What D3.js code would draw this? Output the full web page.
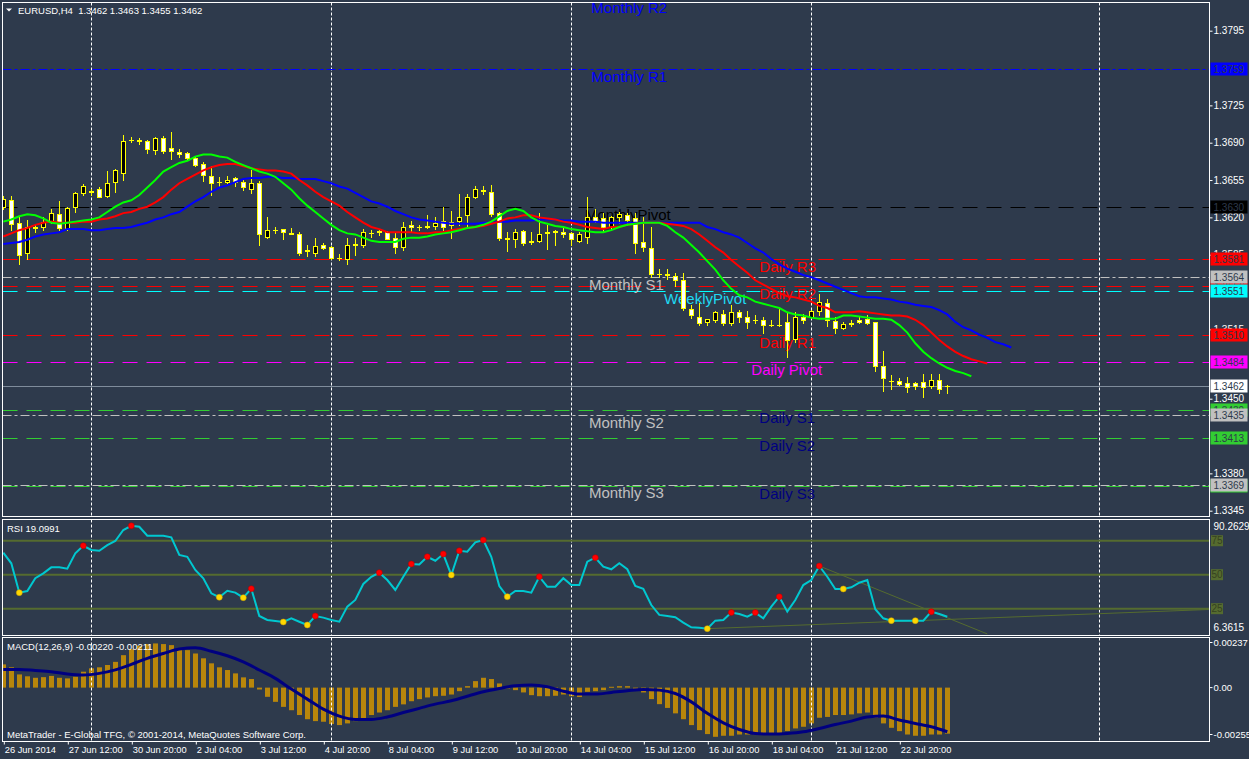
<!DOCTYPE html>
<html>
<head>
<meta charset="utf-8">
<script src="https://cdn.jsdelivr.net/npm/d3@7"></script>
<style>
html, body { margin: 0; padding: 0; background: #2e3a4c; }
svg { display: block; }
text { font-family: "Liberation Sans", Arial, sans-serif; }
</style>
</head>
<body>
<div id="chart"></div>
<script>
// EURUSD H4 candles, 26 Jun - 23 Jul 2014: [open, high, low, close]
const ohlc = [
  [1.3630,1.3640,1.3628,1.3637],[1.3636,1.3640,1.3608,1.3614],[1.3615,1.3620,1.3576,1.3585],[1.3587,1.3618,1.3581,1.3611],
  [1.3611,1.3613,1.3606,1.3610],[1.3611,1.3620,1.3608,1.3616],[1.3617,1.3628,1.3615,1.3624],[1.3623,1.3635,1.3608,1.3610],
  [1.3609,1.3630,1.3608,1.3629],[1.3630,1.3644,1.3625,1.3643],[1.3643,1.3651,1.3641,1.3649],[1.3645,1.3647,1.3641,1.3644],
  [1.3647,1.3648,1.3639,1.3639],[1.3640,1.3663,1.3639,1.3652],[1.3653,1.3665,1.3644,1.3664],[1.3662,1.3697,1.3655,1.3692],
  [1.3693,1.3695,1.3691,1.3693],[1.3693,1.3694,1.3689,1.3692],[1.3692,1.3693,1.3680,1.3684],[1.3683,1.3695,1.3679,1.3694],
  [1.3694,1.3696,1.3680,1.3682],[1.3685,1.3700,1.3675,1.3682],[1.3681,1.3684,1.3677,1.3679],[1.3680,1.3681,1.3675,1.3676],
  [1.3676,1.3678,1.3668,1.3669],[1.3670,1.3672,1.3654,1.3660],[1.3659,1.3668,1.3641,1.3652],[1.3653,1.3658,1.3648,1.3653],
  [1.3653,1.3659,1.3652,1.3655],[1.3657,1.3658,1.3649,1.3653],[1.3653,1.3655,1.3646,1.3648],[1.3647,1.3664,1.3643,1.3652],
  [1.3652,1.3654,1.3594,1.3604],[1.3602,1.3620,1.3601,1.3608],[1.3608,1.3611,1.3605,1.3608],[1.3609,1.3609,1.3600,1.3606],
  [1.3605,1.3610,1.3604,1.3604],[1.3604,1.3606,1.3585,1.3587],[1.3588,1.3594,1.3584,1.3589],[1.3587,1.3601,1.3584,1.3593],
  [1.3594,1.3596,1.3590,1.3591],[1.3592,1.3593,1.3581,1.3582],[1.3582,1.3586,1.3580,1.3582],[1.3581,1.3601,1.3576,1.3594],
  [1.3594,1.3601,1.3585,1.3595],[1.3594,1.3609,1.3592,1.3606],[1.3605,1.3608,1.3602,1.3605],[1.3606,1.3609,1.3603,1.3607],
  [1.3606,1.3607,1.3600,1.3600],[1.3601,1.3605,1.3587,1.3592],[1.3592,1.3616,1.3589,1.3611],[1.3613,1.3617,1.3606,1.3611],
  [1.3611,1.3613,1.3608,1.3611],[1.3611,1.3622,1.3610,1.3612],[1.3612,1.3620,1.3609,1.3615],[1.3617,1.3630,1.3608,1.3611],
  [1.3613,1.3626,1.3601,1.3616],[1.3617,1.3642,1.3613,1.3620],[1.3622,1.3642,1.3610,1.3639],[1.3639,1.3649,1.3638,1.3647],
  [1.3646,1.3649,1.3642,1.3645],[1.3644,1.3650,1.3621,1.3623],[1.3624,1.3625,1.3599,1.3601],[1.3601,1.3606,1.3588,1.3600],
  [1.3600,1.3609,1.3592,1.3606],[1.3607,1.3608,1.3594,1.3596],[1.3597,1.3606,1.3595,1.3598],[1.3598,1.3624,1.3597,1.3604],
  [1.3605,1.3613,1.3590,1.3606],[1.3606,1.3608,1.3594,1.3607],[1.3606,1.3611,1.3602,1.3604],[1.3605,1.3606,1.3594,1.3600],
  [1.3598,1.3606,1.3597,1.3604],[1.3602,1.3639,1.3596,1.3620],[1.3620,1.3628,1.3616,1.3617],[1.3619,1.3624,1.3606,1.3611],
  [1.3611,1.3621,1.3609,1.3620],[1.3620,1.3625,1.3615,1.3623],[1.3622,1.3624,1.3613,1.3618],[1.3619,1.3624,1.3587,1.3596],
  [1.3597,1.3620,1.3588,1.3592],[1.3591,1.3611,1.3564,1.3567],[1.3567,1.3572,1.3564,1.3567],[1.3567,1.3572,1.3562,1.3566],
  [1.3565,1.3568,1.3556,1.3561],[1.3561,1.3568,1.3533,1.3535],[1.3534,1.3538,1.3526,1.3528],[1.3527,1.3540,1.3519,1.3521],
  [1.3522,1.3525,1.3519,1.3525],[1.3524,1.3532,1.3522,1.3531],[1.3529,1.3533,1.3519,1.3521],[1.3521,1.3538,1.3519,1.3531],
  [1.3531,1.3533,1.3522,1.3527],[1.3527,1.3532,1.3516,1.3522],[1.3524,1.3528,1.3521,1.3524],[1.3524,1.3527,1.3512,1.3519],
  [1.3519,1.3524,1.3518,1.3519],[1.3519,1.3534,1.3518,1.3519],[1.3522,1.3531,1.3489,1.3505],[1.3506,1.3531,1.3503,1.3527],
  [1.3527,1.3529,1.3521,1.3524],[1.3527,1.3533,1.3526,1.3532],[1.3532,1.3548,1.3528,1.3541],[1.3540,1.3543,1.3518,1.3524],
  [1.3523,1.3527,1.3512,1.3516],[1.3516,1.3522,1.3515,1.3520],[1.3520,1.3524,1.3518,1.3521],[1.3524,1.3527,1.3521,1.3522],
  [1.3525,1.3528,1.3520,1.3521],[1.3522,1.3522,1.3476,1.3481],[1.3481,1.3495,1.3457,1.3469],[1.3467,1.3472,1.3459,1.3467],
  [1.3467,1.3469,1.3463,1.3464],[1.3465,1.3470,1.3456,1.3461],[1.3465,1.3466,1.3459,1.3462],[1.3466,1.3473,1.3452,1.3461],
  [1.3462,1.3473,1.3460,1.3468],[1.3468,1.3473,1.3455,1.3459],[1.3462,1.3463,1.3455,1.3462]
];

// moving averages (shifted forward, so they run past the last candle)
const maGreen = [
  1.3616,1.3618,1.3621,1.3623,1.3622,1.3619,1.3615,1.3614,1.3615,1.3616,
  1.3617,1.3618,1.3620,1.3625,1.3630,1.3634,1.3636,1.3641,1.3648,1.3655,
  1.3663,1.3667,1.3671,1.3673,1.3677,1.3679,1.3679,1.3677,1.3676,1.3672,
  1.3669,1.3666,1.3663,1.3661,1.3658,1.3652,1.3646,1.3638,1.3631,1.3625,
  1.3619,1.3613,1.3608,1.3605,1.3604,1.3601,1.3598,1.3597,1.3597,1.3597,
  1.3600,1.3601,1.3601,1.3602,1.3604,1.3605,1.3606,1.3608,1.3610,1.3611,
  1.3613,1.3616,1.3621,1.3626,1.3628,1.3626,1.3620,1.3616,1.3614,1.3612,
  1.3611,1.3609,1.3608,1.3607,1.3606,1.3606,1.3608,1.3611,1.3613,1.3614,
  1.3615,1.3615,1.3615,1.3612,1.3606,1.3601,1.3594,1.3587,1.3579,1.3571,
  1.3561,1.3553,1.3547,1.3545,1.3541,1.3539,1.3537,1.3535,1.3531,1.3529,
  1.3528,1.3526,1.3525,1.3525,1.3525,1.3528,1.3528,1.3527,1.3526,1.3525,
  1.3525,1.3524,1.3519,1.3512,1.3502,1.3494,1.3488,1.3483,1.3479,1.3476,
  1.3474,1.3471
];
const maRed = [
  1.3602,1.3605,1.3608,1.3610,1.3613,1.3615,1.3616,1.3615,1.3615,1.3615,
  1.3616,1.3616,1.3618,1.3619,1.3621,1.3624,1.3625,1.3628,1.3630,1.3634,
  1.3639,1.3646,1.3652,1.3656,1.3660,1.3664,1.3667,1.3669,1.3670,1.3670,
  1.3668,1.3666,1.3665,1.3664,1.3664,1.3663,1.3661,1.3655,1.3650,1.3644,
  1.3639,1.3635,1.3631,1.3625,1.3620,1.3615,1.3611,1.3609,1.3606,1.3606,
  1.3606,1.3606,1.3605,1.3605,1.3606,1.3606,1.3608,1.3609,1.3610,1.3611,
  1.3612,1.3614,1.3616,1.3619,1.3620,1.3622,1.3622,1.3620,1.3619,1.3618,
  1.3616,1.3615,1.3613,1.3611,1.3610,1.3609,1.3611,1.3611,1.3613,1.3614,
  1.3615,1.3615,1.3615,1.3614,1.3613,1.3612,1.3609,1.3604,1.3598,1.3592,
  1.3587,1.3580,1.3574,1.3568,1.3561,1.3557,1.3553,1.3549,1.3546,1.3545,
  1.3543,1.3541,1.3537,1.3535,1.3531,1.3531,1.3531,1.3532,1.3531,1.3530,
  1.3529,1.3528,1.3528,1.3527,1.3524,1.3519,1.3512,1.3505,1.3499,1.3494,
  1.3490,1.3487,1.3485,1.3483
];
const maBlue = [
  1.3595,1.3596,1.3597,1.3599,1.3602,1.3604,1.3605,1.3606,1.3609,1.3609,
  1.3609,1.3608,1.3608,1.3609,1.3610,1.3610,1.3611,1.3613,1.3615,1.3618,
  1.3620,1.3623,1.3625,1.3630,1.3635,1.3639,1.3644,1.3648,1.3650,1.3653,
  1.3656,1.3657,1.3657,1.3658,1.3658,1.3657,1.3657,1.3656,1.3656,1.3656,
  1.3654,1.3652,1.3649,1.3647,1.3643,1.3639,1.3635,1.3633,1.3630,1.3626,
  1.3623,1.3620,1.3618,1.3617,1.3616,1.3615,1.3614,1.3614,1.3614,1.3614,
  1.3615,1.3615,1.3616,1.3616,1.3617,1.3617,1.3617,1.3618,1.3618,1.3618,
  1.3617,1.3617,1.3616,1.3616,1.3616,1.3615,1.3615,1.3615,1.3615,1.3615,
  1.3615,1.3615,1.3615,1.3615,1.3615,1.3615,1.3615,1.3615,1.3611,1.3609,
  1.3606,1.3604,1.3601,1.3596,1.3591,1.3587,1.3581,1.3576,1.3572,1.3569,
  1.3566,1.3564,1.3561,1.3558,1.3555,1.3552,1.3549,1.3546,1.3545,1.3545,
  1.3544,1.3543,1.3541,1.3540,1.3538,1.3537,1.3536,1.3533,1.3529,1.3522,
  1.3517,1.3514,1.3510,1.3507,1.3503,1.3501,1.3498
];

// pivot levels
const levelNames  = ["Monthly R2","Monthly R1","MonthlyPivot","Monthly S1","Monthly S2","Monthly S3",
                     "WeeklyPivot","Daily R3","Daily R2","Daily R1","Daily Pivot","Daily S1","Daily S2","Daily S3"];
const levelPrices = [1.3824,1.3759,1.3630,1.3564,1.3435,1.3369,1.3551,1.3581,1.3556,1.3510,1.3484,1.3439,1.3413,1.3368];
const levelLabelBars = [73.5,73.5,72.7,73.2,73.2,73.2,82.6,94.5,94.5,94.5,93.5,94.5,94.5,94.5];
const lastPrice = 1.3462;

// scale values that are not hidden behind a price label
const priceTicks = [1.3795,1.3725,1.3690,1.3655,1.3620,1.3585,1.3515,1.3450,1.3380,1.3345];

// RSI
const rsi = [
  66.2,58.4,36.8,38.0,47.4,51.0,55.4,55.4,54.4,65.7,
  71.3,68.2,67.6,71.8,74.8,82.9,86.0,85.3,78.7,78.7,
  78.7,77.5,64.5,63.2,53.5,47.4,36.3,33.4,38.2,36.8,
  33.1,39.7,19.6,16.7,16.0,15.2,17.9,15.4,13.0,19.6,
  18.4,16.7,15.4,26.5,31.4,43.2,48.5,51.5,46.1,38.8,
  48.5,57.9,57.6,63.2,60.3,65.2,49.8,67.6,66.9,73.8,
  75.5,63.2,41.7,33.8,38.0,38.0,36.8,48.5,41.2,41.2,
  47.4,42.4,42.4,59.6,62.5,55.9,54.0,58.4,54.0,41.7,
  39.7,27.7,20.4,19.6,18.7,14.7,11.3,11.0,10.3,16.2,
  16.7,22.1,21.1,19.1,22.1,17.9,26.5,33.8,22.8,31.4,
  42.4,46.1,56.4,48.5,39.5,39.5,40.7,44.1,46.1,24.6,
  17.9,16.2,16.2,16.2,16.2,16.2,22.8,21.1,19.0991
];
const rsiPeakBars = [10,16,31,39,47,51,53,55,57,60,67,74,91,94,97,102,116];
const rsiTroughBars = [2,27,30,35,38,56,63,88,105,111,114];
const rsiLevels = [75,50,25];
const rsiRange = [6.3615, 90.2629];
const rsiTrendUp = [[88, 10.3], [150.7, 24.4]];
const rsiTrendDown = [[102, 56.4], [123, 6.4]];

// MACD(12,26,9)
const macdHist = [
  0.00111,0.00097,0.00063,0.00054,0.00047,0.00050,0.00056,0.00047,0.00044,0.00052,
  0.00076,0.00092,0.00097,0.00108,0.00123,0.00155,0.00184,0.00200,0.00208,0.00211,
  0.00208,0.00203,0.00187,0.00179,0.00163,0.00140,0.00116,0.00097,0.00084,0.00068,
  0.00049,0.00041,-0.00009,-0.00044,-0.00068,-0.00092,-0.00108,-0.00131,-0.00151,-0.00160,
  -0.00163,-0.00174,-0.00179,-0.00171,-0.00160,-0.00147,-0.00131,-0.00119,-0.00108,-0.00092,
  -0.00080,-0.00065,-0.00055,-0.00047,-0.00041,-0.00039,-0.00033,-0.00017,0.00007,0.00031,
  0.00047,0.00041,0.00020,0.00001,-0.00012,-0.00023,-0.00036,-0.00041,-0.00041,-0.00039,
  -0.00033,-0.00041,-0.00045,-0.00020,-0.00017,-0.00012,0.00004,0.00007,0.00007,-0.00004,
  -0.00023,-0.00055,-0.00079,-0.00097,-0.00123,-0.00151,-0.00179,-0.00203,-0.00222,-0.00235,
  -0.00230,-0.00230,-0.00224,-0.00224,-0.00224,-0.00224,-0.00222,-0.00219,-0.00207,-0.00195,
  -0.00187,-0.00171,-0.00144,-0.00140,-0.00131,-0.00131,-0.00128,-0.00123,-0.00119,-0.00144,
  -0.00171,-0.00192,-0.00208,-0.00224,-0.00230,-0.00230,-0.00224,-0.00224,-0.00220
];
// signal line read every second bar
const macdSignal = [
  0.00087,0.00087,0.00082,0.00076,0.00065,0.00060,0.00068,0.00085,0.00111,0.00140,
  0.00163,0.00184,0.00190,0.00174,0.00152,0.00123,0.00084,0.00044,-0.00007,-0.00055,
  -0.00103,-0.00136,-0.00152,-0.00152,-0.00140,-0.00119,-0.00099,-0.00079,-0.00063,-0.00041,
  -0.00020,-0.00004,0.00009,0.00012,0.00004,-0.00017,-0.00031,-0.00031,-0.00023,-0.00015,
  -0.00009,-0.00012,-0.00028,-0.00068,-0.00123,-0.00168,-0.00200,-0.00219,-0.00222,-0.00219,
  -0.00211,-0.00195,-0.00176,-0.00160,-0.00140,-0.00136,-0.00155,-0.00171,-0.00187,-0.00211
];
const macdRange = [-0.00255, 0.00237];

// time axis
const xTickBars = [0,8,16,24,32,40,48,56,64,72,80,88,96,104,112];
const xTickLabels = ["26 Jun 2014","27 Jun 12:00","30 Jun 20:00","2 Jul 04:00","3 Jul 12:00","4 Jul 20:00",
  "8 Jul 04:00","9 Jul 12:00","10 Jul 20:00","14 Jul 04:00","15 Jul 12:00","16 Jul 20:00",
  "18 Jul 04:00","21 Jul 12:00","22 Jul 20:00"];
const separatorBars = [11, 41, 71, 101, 137];

// ---------------------------------------------------------------
const width = 1249, height = 759;
const bg = "#2e3a4c";
const left = 2.5, right = 1209.5;
const mainP = { top: 2.5, bottom: 516.5 };
const rsiP = { top: 519.5, bottom: 635.5 };
const macdP = { top: 637.5, bottom: 741.5 };

const x = d3.scaleLinear().domain([0, 118]).range([3.3, 947.3]);
const y = d3.scaleLinear().domain([1.3345, 1.3795]).range([510.7, 30.7]);
const yR = d3.scaleLinear().domain(rsiRange).range([634, 520]);
const yM = d3.scaleLinear().domain(macdRange).range([741, 638]);

const svg = d3.select("#chart").append("svg")
    .attr("width", width)
    .attr("height", height)
    .style("background", bg);

const defs = svg.append("defs");
function clip(id, p) {
    defs.append("clipPath").attr("id", id).append("rect")
        .attr("x", left + 0.5).attr("y", p.top + 0.5)
        .attr("width", right - left - 1).attr("height", p.bottom - p.top - 1);
}
clip("clipMain", mainP);
clip("clipRsi", rsiP);
clip("clipMacd", macdP);

const mainG = svg.append("g").attr("clip-path", "url(#clipMain)");
const rsiG = svg.append("g").attr("clip-path", "url(#clipRsi)");
const macdG = svg.append("g").attr("clip-path", "url(#clipMacd)");

function separators(g, p) {
    g.append("g").selectAll("line")
        .data(separatorBars)
        .join("line")
        .attr("x1", d => Math.round(x(d)) + 0.5)
        .attr("x2", d => Math.round(x(d)) + 0.5)
        .attr("y1", p.top).attr("y2", p.bottom)
        .attr("stroke", "#ffffff")
        .attr("stroke-dasharray", "3,2");
}

// --- main panel ---
separators(mainG, mainP);

const levelStyle = name => {
    if (name === "MonthlyPivot") return { line: "#000000", text: "#000000", box: "#000000", dash: "15,9" };
    if (name.startsWith("Monthly R")) return { line: "#0000ff", text: "#0000ff", box: "#0000ff", dash: "9,3,3,3" };
    if (name.startsWith("Monthly S")) return { line: "#c0c0c0", text: "#c0c0c0", box: "#c0c0c0", dash: "9,3,3,3" };
    if (name === "WeeklyPivot") return { line: "#00ffff", text: "#1ed8f2", box: "#00ffff", dash: "15,9" };
    if (name === "Daily Pivot") return { line: "#ff00ff", text: "#ff00ff", box: "#ff00ff", dash: "15,9" };
    if (name.startsWith("Daily R")) return { line: "#ff0000", text: "#ff0000", box: "#ff0000", dash: "15,9" };
    return { line: "#32cd32", text: "#000080", box: "#32cd32", dash: "15,9" };
};

const levels = levelNames.map((n, i) => ({ name: n, price: levelPrices[i], bar: levelLabelBars[i], st: levelStyle(n) }));

mainG.append("g").selectAll("line")
    .data(levels)
    .join("line")
    .attr("x1", left).attr("x2", right)
    .attr("y1", d => Math.round(y(d.price)) + 0.5)
    .attr("y2", d => Math.round(y(d.price)) + 0.5)
    .attr("stroke", d => d.st.line)
    .attr("stroke-dasharray", d => d.st.dash);

mainG.append("line")
    .attr("x1", left).attr("x2", right)
    .attr("y1", Math.round(y(lastPrice)) + 0.5)
    .attr("y2", Math.round(y(lastPrice)) + 0.5)
    .attr("stroke", "#7f8c9b");

mainG.append("g").selectAll("text")
    .data(levels)
    .join("text")
    .attr("x", d => x(d.bar))
    .attr("y", d => y(d.price) + 13)
    .attr("fill", d => d.st.text)
    .style("font-size", "15px")
    .text(d => d.name);

// candles: black body = up bar, white body = down bar
const bars = ohlc.map((d, i) => ({ i, o: d[0], h: d[1], l: d[2], c: d[3] }));
const cg = mainG.append("g").selectAll("g").data(bars).join("g");
cg.append("line")
    .attr("x1", d => Math.round(x(d.i)) + 0.5)
    .attr("x2", d => Math.round(x(d.i)) + 0.5)
    .attr("y1", d => Math.round(y(d.h)))
    .attr("y2", d => Math.round(y(d.l)) + 1)
    .attr("stroke", "#ffff00");
cg.each(function(d) {
    const g = d3.select(this);
    const cx = Math.round(x(d.i));
    const top = Math.round(y(Math.max(d.o, d.c)));
    const bot = Math.round(y(Math.min(d.o, d.c)));
    if (bot - top < 1) {
        g.append("line")
            .attr("x1", cx - 2).attr("x2", cx + 3)
            .attr("y1", top + 0.5).attr("y2", top + 0.5)
            .attr("stroke", "#ffff00");
    } else {
        g.append("rect")
            .attr("x", cx - 1.5).attr("y", top + 0.5)
            .attr("width", 4).attr("height", bot - top)
            .attr("fill", d.c > d.o ? "#000000" : "#ffffff")
            .attr("stroke", "#ffff00");
    }
});

const maLine = d3.line().x((d, i) => x(i)).y(d => y(d));
[[maBlue, "#0000ff"], [maRed, "#ff0000"], [maGreen, "#00ff00"]].forEach(([s, col]) => {
    mainG.append("path")
        .attr("d", maLine(s))
        .attr("fill", "none")
        .attr("stroke", col)
        .attr("stroke-width", 2);
});

// --- RSI panel ---
separators(rsiG, rsiP);
rsiG.append("g").selectAll("line")
    .data(rsiLevels)
    .join("line")
    .attr("x1", left).attr("x2", right)
    .attr("y1", d => yR(d)).attr("y2", d => yR(d))
    .attr("stroke", "#556b2f")
    .attr("stroke-width", 2);
[rsiTrendUp, rsiTrendDown].forEach(t => {
    rsiG.append("line")
        .attr("x1", x(t[0][0])).attr("y1", yR(t[0][1]))
        .attr("x2", x(t[1][0])).attr("y2", yR(t[1][1]))
        .attr("stroke", "#556b2f");
});
rsiG.append("path")
    .attr("d", d3.line().x((d, i) => x(i)).y(d => yR(d))(rsi))
    .attr("fill", "none")
    .attr("stroke", "#00c8d0")
    .attr("stroke-width", 2);
rsiG.append("g").selectAll("circle")
    .data(rsiTroughBars)
    .join("circle")
    .attr("cx", d => x(d)).attr("cy", d => yR(rsi[d]))
    .attr("r", 3)
    .attr("fill", "#ffd700")
    .attr("stroke", "#c8a000").attr("stroke-width", 0.5);
rsiG.append("g").selectAll("circle")
    .data(rsiPeakBars)
    .join("circle")
    .attr("cx", d => x(d)).attr("cy", d => yR(rsi[d]))
    .attr("r", 3)
    .attr("fill", "#ff0000")
    .attr("stroke", "#b00000").attr("stroke-width", 0.5);

// --- MACD panel ---
macdG.append("g").selectAll("rect")
    .data(macdHist)
    .join("rect")
    .attr("x", (d, i) => Math.round(x(i)) - 2)
    .attr("width", 5)
    .attr("y", d => Math.min(yM(d), yM(0)))
    .attr("height", d => Math.max(1, Math.abs(yM(d) - yM(0))))
    .attr("fill", "#b8860b");
separators(macdG, macdP);
macdG.append("path")
    .attr("d", d3.line().curve(d3.curveMonotoneX).x((d, i) => x(i * 2)).y(d => yM(d))(macdSignal))
    .attr("fill", "none")
    .attr("stroke", "#000080")
    .attr("stroke-width", 3);

// --- panel frames ---
[mainP, rsiP, macdP].forEach(p => {
    svg.append("rect")
        .attr("x", left).attr("y", p.top)
        .attr("width", right - left).attr("height", p.bottom - p.top)
        .attr("fill", "none")
        .attr("stroke", "#ffffff");
});

// --- axes ---
function styleAxis(g, size) {
    g.select(".domain").remove();
    g.selectAll("line").attr("stroke", "#ffffff");
    g.selectAll("text").attr("fill", "#ffffff").style("font-size", size || "9.5px")
        .style("font-family", "'Liberation Sans', Arial, sans-serif");
}

svg.append("g")
    .attr("transform", `translate(${right},0)`)
    .call(d3.axisRight(y).tickValues(priceTicks).tickFormat(d => d.toFixed(4)).tickSize(3).tickPadding(1))
    .call(styleAxis, "10px");

// price labels on the scale (daily below weekly below monthly below current)
const boxOrder = levels
    .filter(d => d.name !== "Monthly R2")
    .sort((a, b) => {
        const rank = n => n.startsWith("Daily") ? 0 : n.startsWith("Weekly") ? 1 : 2;
        return rank(a.name) - rank(b.name);
    })
    .map(d => ({ price: d.price, box: d.st.box }));
boxOrder.push({ price: lastPrice, box: "#ffffff" });
const boxes = svg.append("g").selectAll("g").data(boxOrder).join("g")
    .attr("transform", d => `translate(${right + 1},${Math.round(y(d.price))})`);
boxes.append("rect")
    .attr("x", 0).attr("y", -6.5)
    .attr("width", 37).attr("height", 13)
    .attr("fill", d => d.box);
boxes.append("text")
    .attr("x", 3).attr("dy", "0.35em")
    .attr("fill", bg)
    .style("font-size", "10px")
    .text(d => d.price.toFixed(4));

// RSI scale
const rsiAxis = svg.append("g")
    .attr("transform", `translate(${right},0)`)
    .call(d3.axisRight(yR).tickValues(rsiRange).tickFormat(d => d.toFixed(4)).tickSize(0).tickPadding(4))
    .call(styleAxis, "10px");
rsiAxis.selectAll(".tick")
    .attr("transform", d => `translate(0,${Math.min(Math.max(yR(d), rsiP.top + 7.5), rsiP.bottom - 7.5)})`);

const rl = svg.append("g").selectAll("g").data(rsiLevels).join("g")
    .attr("transform", d => `translate(${right + 1.5},${yR(d)})`);
rl.append("rect").attr("x", 0).attr("y", -5.5).attr("width", 12).attr("height", 11).attr("fill", "#556b2f");
rl.append("text").attr("x", 0.5).attr("dy", "0.35em").attr("fill", "#36421f")
    .style("font-size", "10px").text(d => d);

// MACD scale
const macdAxis = svg.append("g")
    .attr("transform", `translate(${right},0)`)
    .call(d3.axisRight(yM).tickValues([macdRange[1], 0, macdRange[0]])
        .tickFormat(d => d === 0 ? "0.00" : d.toFixed(5)).tickSize(3).tickPadding(1))
    .call(styleAxis, "9.5px");
macdAxis.selectAll(".tick")
    .attr("transform", d => `translate(0,${Math.min(Math.max(yM(d), macdP.top + 5), macdP.bottom - 7)})`);

// time axis
svg.append("g")
    .attr("transform", `translate(0,${macdP.bottom})`)
    .call(d3.axisBottom(x).tickValues(xTickBars).tickFormat((d, i) => xTickLabels[i]).tickSize(3).tickPadding(2))
    .call(styleAxis, "9.3px")
    .call(g => g.selectAll(".tick line").attr("transform", "translate(0.5,0)"))
    .call(g => g.selectAll("text").attr("text-anchor", "start").attr("x", 1));

// --- captions ---
svg.append("path").attr("d", "M6,8.5 L12,8.5 L9,11.5 Z").attr("fill", "#ffffff");
const last = ohlc[ohlc.length - 1];
svg.append("text")
    .attr("x", 18).attr("y", 13.5)
    .attr("fill", "#ffffff")
    .style("font-size", "9.5px")
    .style("white-space", "pre")
    .text("EURUSD,H4  " + last.map(v => v.toFixed(4)).join(" "));
svg.append("text")
    .attr("x", 7).attr("y", 531.5)
    .attr("fill", "#ffffff")
    .style("font-size", "9.5px")
    .text("RSI " + rsi[rsi.length - 1].toFixed(4));
svg.append("text")
    .attr("x", 7).attr("y", 650)
    .attr("fill", "#ffffff")
    .style("font-size", "9.5px")
    .text(`MACD(12,26,9) ${macdHist[macdHist.length - 1].toFixed(5)} ${macdSignal[macdSignal.length - 1].toFixed(5)}`);
svg.append("text")
    .attr("x", 7).attr("y", 737.5)
    .attr("fill", "#ffffff")
    .style("font-size", "9.5px")
    .text("MetaTrader - E-Global TFG, \u00a9 2001-2014, MetaQuotes Software Corp.");
</script>
</body>
</html>
